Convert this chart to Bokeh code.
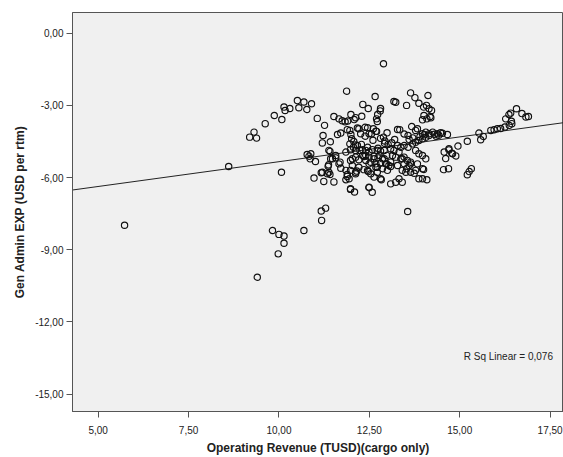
from bokeh.plotting import figure
from bokeh.models import FixedTicker, Label
from bokeh.embed import file_html
from bokeh.resources import INLINE

# Operating Revenue (TUSD)(cargo only)
revenue = [
    5.73, 8.61, 9.19, 9.31, 9.38, 9.62, 9.87, 10.08, 10.14, 10.17,
    10.30, 10.51, 10.55, 10.69, 10.77, 10.90, 11.06, 11.26, 10.07, 9.82,
    10.00, 10.14, 10.14, 9.98, 9.40, 10.69, 11.17, 11.29, 11.18, 13.56,
    12.89, 11.87, 12.66, 13.18, 12.32, 12.47,
    11.52, 11.66, 11.75, 11.83, 11.90, 11.99, 12.08, 12.12, 12.29, 12.73,
    12.80, 12.81, 12.70, 12.72, 11.22, 11.20, 11.42, 11.62, 11.71, 11.89,
    11.96, 11.99, 12.17, 12.21, 12.26, 12.38, 12.45, 12.49, 12.61, 12.68,
    12.56, 12.70, 12.81, 12.89, 12.99, 12.38, 12.01, 12.07, 12.12, 11.96,
    12.17, 13.28, 13.46, 13.57, 12.45, 12.58, 12.74, 12.91, 13.09, 13.28,
    12.31, 12.12, 12.24, 12.40, 12.49,
    13.23, 13.53, 13.64, 13.76, 13.87, 14.12, 14.00, 14.08, 14.15, 14.22,
    14.01, 14.18, 13.97, 14.20, 13.67, 13.78, 13.83, 13.97, 14.06, 14.15,
    14.25, 14.38, 14.47, 14.66, 13.69, 13.78, 13.87, 13.97, 14.06, 14.15,
    13.37, 13.46, 13.57,
    14.57, 14.70, 14.80, 14.89, 14.61, 14.95, 15.21, 14.55, 14.69, 15.21,
    15.26, 15.32, 15.53, 15.65, 15.58, 15.86, 15.95, 16.04, 16.13, 16.25,
    16.37, 16.27, 16.36, 16.41, 16.43, 16.44, 16.57, 16.72, 16.83, 16.90,
    11.38, 11.41, 11.48, 11.57, 11.37, 11.66, 11.71, 11.38, 11.52, 11.24,
    11.20, 10.97, 10.78, 10.83, 10.86, 11.01, 10.88, 11.34, 11.36, 11.43,
    11.85, 11.89, 11.94, 11.85, 12.03, 11.98, 12.12, 11.57, 11.69, 11.85,
    11.98, 12.06, 12.03, 12.12, 12.21, 12.31, 12.40, 12.45, 12.49, 12.68,
    12.72, 12.81, 12.63, 12.77, 12.91, 12.95, 13.04, 13.14, 13.18, 13.32,
    13.41, 13.46, 13.60, 13.64, 13.51, 13.41, 13.78, 13.83, 13.97, 13.87,
    13.97, 13.09, 13.23, 13.41, 13.32, 11.98, 12.09, 12.49, 12.58, 12.15,
    12.21, 12.35, 12.54, 12.63, 12.83, 12.72, 12.86, 13.00, 13.09, 13.74,
    14.09, 14.00, 12.72, 12.81, 12.40, 12.49, 12.63, 12.74, 12.86, 12.98,
    12.54, 12.68, 12.81, 12.98, 13.09, 13.23, 13.37, 13.46, 13.55, 13.64,
    13.78, 13.87, 13.97, 14.06, 13.28, 13.53, 13.64, 11.17, 11.41, 11.89,
    11.98, 12.12, 12.47, 11.98, 12.49,
    13.34, 14.70, 14.78, 14.09, 12.35, 14.30, 14.42, 14.52, 13.90, 14.02,
    13.12, 13.02, 12.93, 13.60, 13.70, 12.60, 12.92, 13.20, 12.28, 14.35,
]

# Gen Admin EXP (USD per rtm)
gen_admin = [
    -7.98, -5.54, -4.32, -4.11, -4.36, -3.76, -3.42, -3.59, -3.07, -3.21,
    -3.13, -2.80, -3.10, -2.86, -3.17, -2.93, -3.54, -3.83, -5.78, -8.20,
    -8.36, -8.43, -8.73, -9.17, -10.14, -8.20, -7.39, -7.27, -7.78, -7.41,
    -1.27, -2.41, -2.63, -2.84, -2.96, -3.13,
    -3.46, -3.56, -3.64, -3.68, -3.65, -3.38, -3.59, -3.51, -3.45, -3.38,
    -3.23, -3.13, -3.56, -3.67, -4.25, -4.56, -4.51, -4.21, -4.15, -4.01,
    -4.04, -4.21, -3.94, -3.97, -4.18, -3.91, -3.93, -4.18, -3.97, -4.07,
    -4.18, -4.08, -4.37, -4.32, -4.14, -4.28, -4.39, -4.50, -4.64, -4.60,
    -4.67, -4.00, -4.19, -4.25, -4.74, -4.84, -4.78, -4.87, -4.80, -4.67,
    -4.84, -4.87, -4.87, -4.87, -4.94,
    -2.87, -3.00, -2.48, -2.68, -2.91, -2.59, -3.07, -3.00, -3.14, -3.21,
    -3.42, -3.46, -3.60, -3.51, -3.88, -4.04, -3.97, -4.18, -4.11, -4.18,
    -4.11, -4.18, -4.14, -4.21, -4.60, -4.53, -4.46, -4.39, -4.32, -4.25,
    -4.74, -4.67, -4.74,
    -4.94, -4.85, -5.01, -5.10, -5.21, -4.69, -4.49, -5.67, -5.63, -5.88,
    -5.75, -5.63, -4.15, -4.29, -4.43, -4.04, -4.01, -3.97, -3.96, -3.90,
    -3.83, -3.56, -3.38, -3.32, -3.66, -3.76, -3.14, -3.34, -3.48, -3.46,
    -4.87, -4.91, -5.22, -5.08, -5.47, -5.43, -5.61, -5.78, -6.18, -6.16,
    -5.78, -6.02, -5.04, -5.11, -5.22, -5.33, -5.01, -5.84, -5.53, -5.22,
    -5.70, -5.87, -6.05, -6.09, -5.50, -5.29, -5.78, -5.18, -5.36, -4.94,
    -4.84, -4.74, -5.22, -5.15, -5.26, -5.08, -5.29, -5.70, -5.43, -5.57,
    -5.78, -6.05, -5.22, -5.08, -5.22, -5.43, -5.50, -5.08, -4.87, -4.94,
    -5.22, -5.43, -5.50, -5.78, -5.78, -5.70, -5.70, -5.43, -5.63, -6.05,
    -6.05, -6.26, -6.19, -6.19, -6.05, -6.46, -6.60, -6.40, -6.61, -5.73,
    -5.57, -5.67, -5.84, -5.98, -6.09, -5.57, -5.63, -5.70, -5.54, -5.82,
    -6.09, -5.66, -4.87, -4.90, -5.08, -5.15, -5.12, -5.18, -5.22, -5.08,
    -5.36, -5.43, -5.40, -5.43, -5.36, -5.15, -5.22, -5.15, -5.29, -5.36,
    -4.87, -5.01, -5.08, -5.22, -5.50, -5.63, -5.43, -5.80, -5.87, -5.95,
    -5.70, -5.84, -5.75, -6.49, -6.42,
    -4.01, -4.80, -4.99, -3.56, -5.12, -4.20, -4.24, -4.16, -4.30, -4.22,
    -4.55, -4.62, -4.48, -4.42, -4.35, -4.45, -4.58, -4.42, -4.62, -4.28,
]

# Linear fit
fit_intercept = -7.40
fit_slope = 0.206
r_sq_text = "R Sq Linear = 0,076"

x_ticks = [5.0, 7.5, 10.0, 12.5, 15.0, 17.5]
x_tick_labels = ["5,00", "7,50", "10,00", "12,50", "15,00", "17,50"]
y_ticks = [0.0, -3.0, -6.0, -9.0, -12.0, -15.0]
y_tick_labels = ["0,00", "-3,00", "-6,00", "-9,00", "-12,00", "-15,00"]

x_lo, x_hi = 4.29, 17.87
y_lo, y_hi = -15.72, 0.86

FONT = "Liberation Sans"
INK = "#222222"

p = figure(width=563, height=457, x_range=(x_lo, x_hi), y_range=(y_lo, y_hi),
           output_backend="svg", toolbar_location=None,
           min_border_left=72, min_border_right=0, min_border_top=12,
           min_border_bottom=45)
p.background_fill_color = "#f0f0f0"
p.border_fill_color = "white"
p.outline_line_color = "#555555"
p.outline_line_width = 1
p.xgrid.visible = False
p.ygrid.visible = False

for ax in (p.xaxis, p.yaxis):
    ax.axis_line_color = "#555555"
    ax.major_tick_line_color = "#555555"
    ax.major_tick_out = 6
    ax.major_tick_in = 0
    ax.minor_tick_line_color = None
    ax.major_label_text_font = FONT
    ax.major_label_text_font_size = "10px"
    ax.major_label_text_color = INK
    ax.axis_label_text_font = FONT
    ax.axis_label_text_font_size = "12px"
    ax.axis_label_text_font_style = "bold"
    ax.axis_label_text_color = INK

p.xaxis.ticker = FixedTicker(ticks=x_ticks)
p.xaxis.major_label_overrides = dict(zip(x_ticks, x_tick_labels))
p.yaxis.ticker = FixedTicker(ticks=y_ticks)
p.yaxis.major_label_overrides = dict(zip(y_ticks, y_tick_labels))
p.xaxis.axis_label = "Operating Revenue (TUSD)(cargo only)"
p.yaxis.axis_label = "Gen Admin EXP (USD per rtm)"
p.xaxis.major_label_standoff = 8
p.xaxis.axis_label_standoff = 4
p.yaxis.major_label_standoff = 3
p.yaxis.axis_label_standoff = 5

# regression line across the visible x range
line_x = [x_lo, x_hi]
line_y = [fit_intercept + fit_slope * v for v in line_x]
p.line(line_x, line_y, line_color="#222222", line_width=1)

p.scatter(revenue, gen_admin, marker="circle", size=6.3, fill_alpha=0,
          line_color="#111111", line_width=1.15)

p.add_layout(Label(x=15.11, y=-13.43, text=r_sq_text, text_font=FONT,
                   text_font_size="10px", text_color=INK,
                   text_baseline="middle", text_align="left"))

open("out.html", "w").write(file_html(p, INLINE))
